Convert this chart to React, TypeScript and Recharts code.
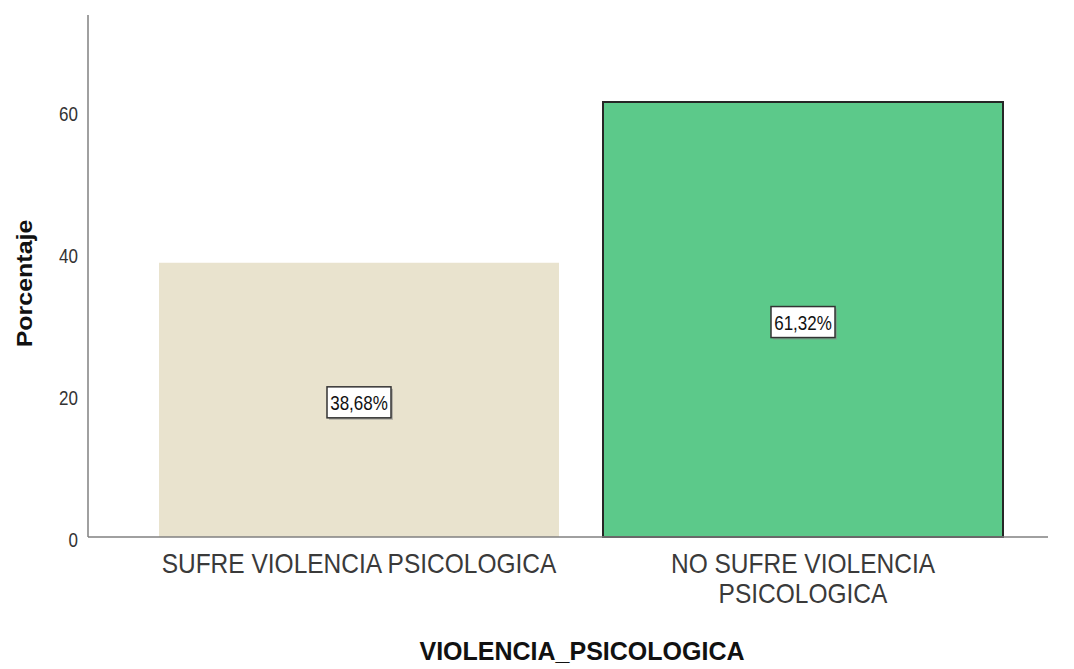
import React from "react";
import { BarChart, Bar, XAxis, YAxis, Cell, LabelList } from "recharts";

const categories = ["SUFRE VIOLENCIA PSICOLOGICA", "NO SUFRE VIOLENCIA PSICOLOGICA"];
const percentages = [38.68, 61.32];
const percentLabels = ["38,68%", "61,32%"];
const barColors = ["#E9E3CE", "#5CC98A"];
const barStrokes = ["none", "#262626"];
const yTicks = [0, 20, 40, 60];

const data = categories.map((c, i) => ({ name: c, value: percentages[i], label: percentLabels[i] }));

const FONT = "Liberation Sans, Arial, sans-serif";

const wrap = (s: string, max: number) => {
  const words = s.split(" ");
  const lines: string[] = [];
  let cur = "";
  for (const w of words) {
    const t = cur ? cur + " " + w : w;
    if (t.length > max && cur) {
      lines.push(cur);
      cur = w;
    } else cur = t;
  }
  if (cur) lines.push(cur);
  return lines;
};

const SText = (props: any) => {
  const { x, y, sy = 1, sx = 1, rotate = 0, children, ...rest } = props;
  return (
    <text transform={`translate(${x},${y}) rotate(${rotate}) scale(${sx},${sy})`} x={0} y={0} fontFamily={FONT} {...rest}>
      {children}
    </text>
  );
};

const XTick = (props: any) => {
  const { x, payload } = props;
  const lines = wrap(String(payload.value), 28);
  return (
    <g>
      {lines.map((l, i) => (
        <SText key={i} x={x} y={573 + i * 30} sy={1.14} textAnchor="middle" fontSize={24.5} fill="#3a3a3a">
          {l}
        </SText>
      ))}
    </g>
  );
};

const YTick = (props: any) => {
  const { x, y, payload } = props;
  return (
    <SText x={x} y={y + 10} sy={1.22} textAnchor="end" fontSize={17} fill="#333">
      {payload.value}
    </SText>
  );
};

const BoxLabel = (props: any) => {
  const { x, y, width, height, value } = props;
  const cx = x + width / 2;
  const cy = y + height / 2 + 2.5;
  const w = 64;
  const h = 31;
  return (
    <g>
      <rect x={cx - w / 2 + 2} y={cy - h / 2 + 2} width={w} height={h} fill="#8a8a8a" opacity={0.55} />
      <rect x={cx - w / 2} y={cy - h / 2} width={w} height={h} fill="#fff" stroke="#333" strokeWidth={1.5} />
      <SText x={cx} y={cy + 7.5} sy={1.22} textAnchor="middle" fontSize={17} fill="#111">
        {value}
      </SText>
    </g>
  );
};

export default function App() {
  return (
    <div style={{ position: "absolute", left: 0, top: 0, width: 1074, height: 669, background: "#fff" }}>
      <BarChart
        width={1074}
        height={669}
        data={data}
        margin={{ top: 15, right: 26, bottom: 0, left: 0 }}
        barSize={400}
      >
        <XAxis
          dataKey="name"
          tick={<XTick />}
          tickLine={false}
          axisLine={{ stroke: "#808080", strokeWidth: 1.5 }}
          padding={{ left: 49, right: 23 }}
          interval={0}
          height={132}
        />
        <YAxis
          width={88}
          domain={[0, 73.6]}
          ticks={yTicks}
          tickLine={false}
          axisLine={{ stroke: "#808080", strokeWidth: 1.5 }}
          tick={<YTick />}
          tickMargin={4}
        />
        <Bar dataKey="value" isAnimationActive={false}>
          {data.map((d, i) => (
            <Cell key={i} fill={barColors[i]} stroke={barStrokes[i]} strokeWidth={2} />
          ))}
          <LabelList dataKey="label" content={<BoxLabel />} />
        </Bar>
        <SText x={32} y={283.5} rotate={-90} sy={0.88} textAnchor="middle" fontWeight="bold" fontSize={25} fill="#111">
          Porcentaje
        </SText>
        <text x={582} y={660} textAnchor="middle" fontFamily={FONT} fontWeight="bold" fontSize={25} fill="#111">
          VIOLENCIA_PSICOLOGICA
        </text>
      </BarChart>
    </div>
  );
}
